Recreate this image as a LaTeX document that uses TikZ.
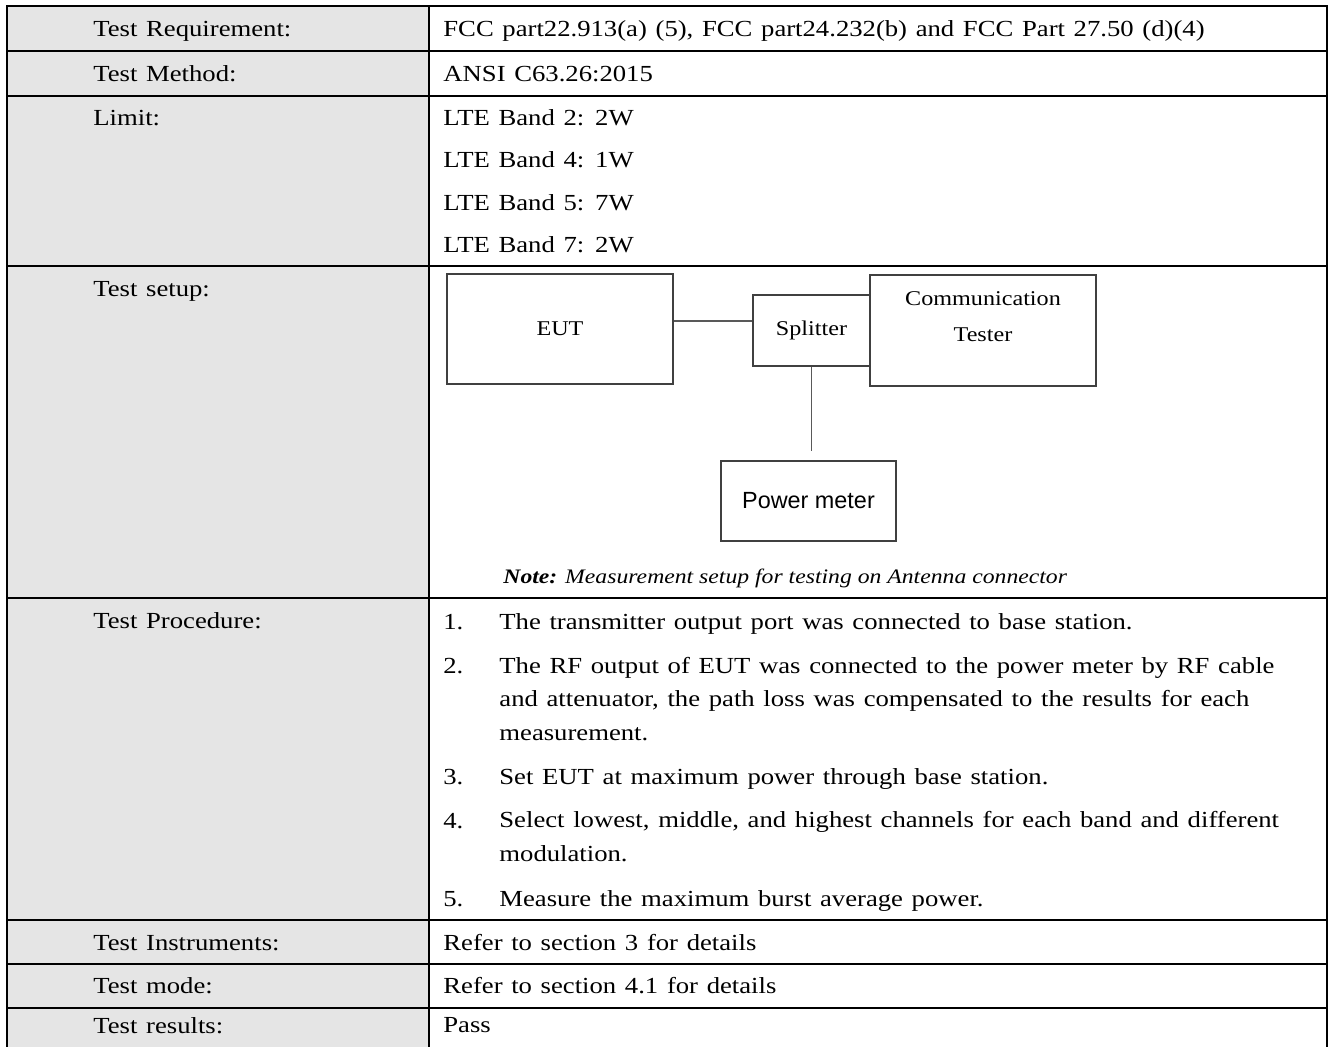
\documentclass[tikz,border=0pt]{standalone}
\usepackage{fontspec}
\setmainfont{Liberation Serif}[FakeStretch=1.16, WordSpace=1.3]
\setsansfont{Liberation Sans}
\newfontfamily\sketchfont{Liberation Serif}[FakeStretch=1.15]
\usetikzlibrary{positioning}

\begin{document}
\begin{tikzpicture}[x=0.5pt, y=-0.5pt,
    every node/.style={inner sep=0pt, font=\fontsize{11.5}{16.7}\selectfont},
    head/.style={anchor=base west},
    entry/.style={anchor=base west, align=left},
    unit/.style={draw=black!75, line width=0.6pt, align=center, font=\fontsize{10.5}{18}\sketchfont},
    wire/.style={draw=black!65, line width=0.6pt},
    rule/.style={line width=1.25pt}]
    \clip (0,0) rectangle (1328,1046);
    \fill[black!10] (7,6) rectangle (429,1060);
    \draw[rule] (7,6) rectangle (1327,1060);
    \draw[rule] (429,6) -- (429,1060);
    \foreach \y in {51,96,266,598,920,964,1008}
        \draw[rule] (7,\y) -- (1327,\y);

    \node[head] (req) at (93,36) {Test Requirement:};
    \node[head] (meth) at (93,81) {Test Method:};
    \node[head] (lim) at (93,125) {Limit:};
    \node[head] (setup) at (93,296) {Test setup:};
    \node[head] (proc) at (93,628) {Test Procedure:};
    \node[head] (instr) at (93,950) {Test Instruments:};
    \node[head] (mode) at (93,993) {Test mode:};
    \node[head] (res) at (93,1033) {Test results:};

    \node[entry] (reqtxt) at (443,36) {FCC part22.913(a) (5), FCC part24.232(b) and FCC Part 27.50 (d)(4)};
    \node[entry] (methtxt) at (443,81) {ANSI C63.26:2015};
    \node[entry] (band2) at (443,125) {LTE Band 2: 2W};
    \node[entry] (band4) at (443,167) {LTE Band 4: 1W};
    \node[entry] (band5) at (443,210) {LTE Band 5: 7W};
    \node[entry] (band7) at (443,252) {LTE Band 7: 2W};

    % setup sketch
    \node[unit, minimum width=113pt, minimum height=55pt] (eut) at (560,329) {EUT};
    \node[unit, minimum width=58.5pt, minimum height=35.5pt] (split) at (811.5,330.5) {Splitter};
    \node[unit, minimum width=113pt, minimum height=55.5pt,
        label={[yshift=6.75pt, align=center, font=\fontsize{10.5}{18}\sketchfont]center:Communication\\Tester}] (tester) at (983,330.5) {};
    \node[unit, font=\fontsize{11.7}{14}\sffamily, minimum width=87.5pt, minimum height=40pt] (meter) at (808.5,501) {Power meter};
    \draw[wire] ([yshift=4pt]eut.east) -- ([yshift=4pt]eut.east -| split.west);
    \draw[wire] (split.south) -- ([yshift=4.5pt]split.south |- meter.north);
    \node[anchor=base west, font=\fontsize{10.3}{13}\sketchfont\itshape] (note) at (503,583)
        {\textbf{Note:} Measurement setup for testing on Antenna connector};

    \node[entry] (n1) at (443,629) {1.};
    \node[entry] (s1) at (499,629) {The transmitter output port was connected to base station.};
    \node[entry] (n2) at (443,673) {2.};
    \node[entry] (s2) at (499,740) {The RF output of EUT was connected to the power meter by RF cable\\
        and attenuator, the path loss was compensated to the results for each\\
        measurement.};
    \node[entry] (n3) at (443,784) {3.};
    \node[entry] (s3) at (499,784) {Set EUT at maximum power through base station.};
    \node[entry] (n4) at (443,828) {4.};
    \node[entry] (s4) at (499,861) {Select lowest, middle, and highest channels for each band and different\\
        modulation.};
    \node[entry] (n5) at (443,906) {5.};
    \node[entry] (s5) at (499,906) {Measure the maximum burst average power.};

    \node[entry] (instrtxt) at (443,950) {Refer to section 3 for details};
    \node[entry] (modetxt) at (443,993) {Refer to section 4.1 for details};
    \node[entry] (restxt) at (443,1032) {Pass};
\end{tikzpicture}
\end{document}
